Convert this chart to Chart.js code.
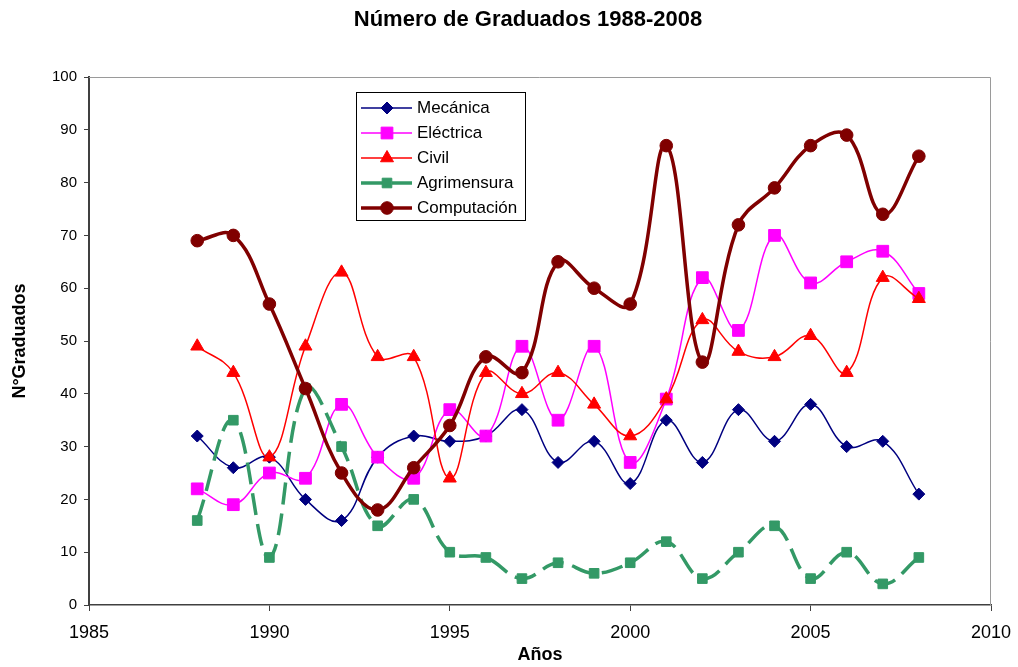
<!DOCTYPE html>
<html>
<head>
<meta charset="utf-8">
<title>Número de Graduados 1988-2008</title>
<script src="https://cdn.jsdelivr.net/npm/chart.js@4.4.0/dist/chart.umd.min.js"></script>
<style>
    html, body { margin: 0; padding: 0; background: #ffffff; }
    #wrap { width: 1018px; height: 667px; }
</style>
</head>
<body>
<div id="wrap"><canvas id="chart" width="1018" height="667"></canvas></div>
<script>
const years = [1988, 1989, 1990, 1991, 1992, 1993, 1994, 1995, 1996, 1997, 1998,
               1999, 2000, 2001, 2002, 2003, 2004, 2005, 2006, 2007, 2008];

const mecanica    = [32, 26, 28, 20, 16, 28, 32, 31, 32, 37, 27, 31, 23, 35, 27, 37, 31, 38, 30, 31, 21];
const electrica   = [22, 19, 25, 24, 38, 28, 24, 37, 32, 49, 35, 49, 27, 39, 62, 52, 70, 61, 65, 67, 59];
const civil       = [49, 44, 28, 49, 63, 47, 47, 24, 44, 40, 44, 38, 32, 39, 54, 48, 47, 51, 44, 62, 58];
const agrimensura = [16, 35, 9, 41, 30, 15, 20, 10, 9, 5, 8, 6, 8, 12, 5, 10, 15, 5, 10, 4, 9];
const computacion = [69, 70, 57, 41, 25, 18, 26, 34, 47, 44, 65, 60, 57, 87, 46, 72, 79, 87, 89, 74, 85];

const chartTitle = 'Número de Graduados 1988-2008';
const FONT = '"Liberation Sans", Arial, Helvetica, sans-serif';

function toPoints(values) {
    return years.map((y, i) => ({ x: y, y: values[i] }));
}

function makeSeries(label, values, color, opts) {
    return {
        label: label,
        data: toPoints(values),
        borderColor: color,
        backgroundColor: color,
        pointBackgroundColor: color,
        pointBorderColor: color,
        pointBorderWidth: 1,
        pointHoverRadius: opts.pointRadius,
        borderWidth: opts.borderWidth,
        borderDash: opts.borderDash || [],
        pointStyle: opts.pointStyle,
        pointRadius: opts.pointRadius,
        order: opts.order,
        tension: 0.4,
        fill: false
    };
}

// title drawn centred over the whole picture, as in the original
const topTitle = {
    id: 'topTitle',
    afterDraw(chart) {
        const { ctx } = chart;
        ctx.save();
        ctx.fillStyle = '#000000';
        ctx.font = 'bold 22px ' + FONT;
        ctx.textAlign = 'center';
        ctx.textBaseline = 'middle';
        ctx.fillText(chartTitle, 528, 20);
        ctx.restore();
    }
};

// light frame on top and right of the plot area
const plotFrame = {
    id: 'plotFrame',
    beforeDatasetsDraw(chart) {
        const { ctx, chartArea: a } = chart;
        ctx.save();
        ctx.strokeStyle = '#9a9a9a';
        ctx.lineWidth = 1;
        ctx.beginPath();
        ctx.moveTo(a.left, a.top + 0.5);
        ctx.lineTo(a.right - 0.5, a.top + 0.5);
        ctx.lineTo(a.right - 0.5, a.bottom);
        ctx.stroke();
        ctx.restore();
    }
};

// boxed legend inside the plot
const boxLegend = {
    id: 'boxLegend',
    afterDatasetsDraw(chart) {
        const { ctx, chartArea } = chart;
        const x0 = chartArea.left + 267;
        const y0 = chartArea.top + 15;
        const w = 169, h = 128, rowH = 25;
        ctx.save();
        ctx.fillStyle = '#ffffff';
        ctx.fillRect(x0, y0, w, h);
        ctx.strokeStyle = '#000000';
        ctx.lineWidth = 1;
        ctx.strokeRect(x0 + 0.5, y0 + 0.5, w, h);
        chart.data.datasets.forEach((ds, i) => {
            const cy = y0 + 16 + i * rowH;
            ctx.strokeStyle = ds.borderColor;
            ctx.lineWidth = ds.borderWidth;
            ctx.setLineDash(ds.borderDash || []);
            ctx.beginPath();
            ctx.moveTo(x0 + 5, cy);
            ctx.lineTo(x0 + 56, cy);
            ctx.stroke();
            ctx.setLineDash([]);
            ctx.fillStyle = ds.pointBackgroundColor;
            ctx.strokeStyle = ds.pointBorderColor;
            ctx.lineWidth = 1;
            Chart.helpers.drawPoint(ctx, {
                pointStyle: ds.pointStyle,
                radius: ds.pointRadius,
                rotation: 0,
                borderWidth: 1
            }, x0 + 31, cy);
            ctx.fillStyle = '#000000';
            ctx.font = '17px ' + FONT;
            ctx.textBaseline = 'middle';
            ctx.textAlign = 'left';
            ctx.fillText(ds.label, x0 + 61, cy);
        });
        ctx.restore();
    }
};

const axisColor = '#404040';

new Chart(document.getElementById('chart').getContext('2d'), {
    type: 'line',
    data: {
        datasets: [
            makeSeries('Mecánica', mecanica, '#000080', { borderWidth: 1.5, pointStyle: 'rectRot', pointRadius: 6, order: 5 }),
            makeSeries('Eléctrica', electrica, '#FF00FF', { borderWidth: 1.5, pointStyle: 'rect', pointRadius: 8.3, order: 4 }),
            makeSeries('Civil', civil, '#FF0000', { borderWidth: 1.5, pointStyle: 'triangle', pointRadius: 7.5, order: 3 }),
            makeSeries('Agrimensura', agrimensura, '#339966', { borderWidth: 3.5, borderDash: [22, 9], pointStyle: 'rect', pointRadius: 6.8, order: 2 }),
            makeSeries('Computación', computacion, '#800000', { borderWidth: 3.5, pointStyle: 'circle', pointRadius: 6.3, order: 1 })
        ]
    },
    options: {
        responsive: false,
        animation: false,
        devicePixelRatio: 1,
        layout: {
            padding: { left: 0, right: 27, top: 77, bottom: 0 }
        },
        plugins: {
            legend: { display: false },
            tooltip: { enabled: false },
            title: { display: false }
        },
        scales: {
            x: {
                type: 'linear',
                min: 1985,
                max: 2010,
                afterFit: s => { s.height = 62; s.paddingLeft = 0; s.paddingRight = 0; },
                ticks: {
                    stepSize: 5,
                    color: '#000000',
                    padding: 11,
                    font: { family: FONT, size: 18 },
                    callback: v => String(v)
                },
                grid: {
                    drawOnChartArea: false,
                    drawTicks: true,
                    tickLength: 6,
                    color: axisColor
                },
                border: { display: true, color: axisColor, width: 1.5 },
                title: {
                    display: true,
                    text: 'Años',
                    color: '#000000',
                    font: { family: FONT, size: 18, weight: 'bold', lineHeight: 1.2 },
                    padding: { top: 0, bottom: 1 }
                }
            },
            y: {
                min: 0,
                max: 100,
                afterFit: s => { s.width = 89; s.paddingTop = 0; s.paddingBottom = 0; },
                ticks: {
                    stepSize: 10,
                    color: '#000000',
                    padding: 7,
                    font: { family: FONT, size: 15 }
                },
                grid: {
                    drawOnChartArea: false,
                    drawTicks: true,
                    tickLength: 5,
                    color: axisColor
                },
                border: { display: true, color: axisColor, width: 2 },
                title: {
                    display: true,
                    text: 'N°Graduados',
                    color: '#000000',
                    font: { family: FONT, size: 18, weight: 'bold', lineHeight: 1.2 },
                    padding: { top: 9, bottom: 0 }
                }
            }
        }
    },
    plugins: [plotFrame, boxLegend, topTitle]
});
</script>
</body>
</html>
